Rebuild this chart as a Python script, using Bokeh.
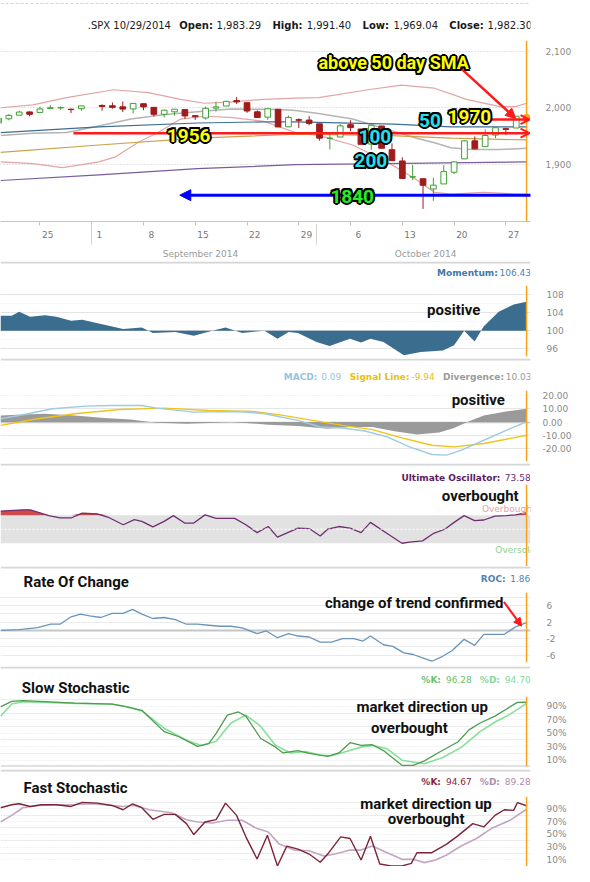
import numpy as np
from bokeh.plotting import figure
from bokeh.layouts import column
from bokeh.models import (Span, Label, FixedTicker, LinearAxis, Range1d, Arrow,
                          NormalHead, OpenHead, Grid, BoxAnnotation,
                          NumeralTickFormatter, PrintfTickFormatter)
from bokeh.embed import file_html
from bokeh.resources import INLINE

# ---------------- data ----------------
# weekday slot index: 0 = Mon 18 Aug 2014 (Mon 1 Sep, Labor Day, has no candle)
day_idx = [1, 2, 3, 4, 5, 6, 7, 8, 9,
           11, 12, 13, 14, 15, 16, 17, 18, 19, 20, 21, 22, 23, 24,
           25, 26, 27, 28, 29, 30, 31, 32, 33, 34, 35, 36, 37, 38, 39, 40, 41, 42, 43, 44, 45,
           46, 47, 48, 49, 50, 51, 52]
open_ = [1972.73, 1980.46, 1986.82, 1992.60, 1991.74, 1998.59, 1999.90, 1997.42, 1998.45,
         2004.07, 2003.57, 2001.67, 1998.00, 2007.17, 2000.73, 1988.41, 1992.85, 1996.74, 1986.04, 1981.93, 1999.30, 2003.07, 2012.74,
         2009.08, 1992.78, 1983.34, 1997.32, 1966.22, 1978.96, 1978.21, 1971.44, 1945.83, 1948.12, 1970.01, 1962.36, 1935.55, 1967.68, 1925.63, 1905.65, 1877.11, 1874.18, 1855.95, 1864.91, 1885.62,
         1909.38, 1941.29, 1931.02, 1951.59, 1962.97, 1964.14, 1983.29]
high = [1982.57, 1988.57, 1994.76, 1993.54, 2001.95, 2005.04, 2002.14, 1998.55, 2003.38,
        2006.12, 2009.28, 2011.17, 2007.71, 2007.17, 2001.01, 1996.66, 1997.65, 1996.74, 1987.18, 2002.28, 2010.74, 2012.34, 2019.26,
        2009.08, 1995.41, 1999.79, 1997.32, 1986.37, 1981.28, 1985.17, 1971.44, 1952.32, 1971.19, 1977.84, 1962.36, 1970.36, 1967.68, 1936.98, 1912.09, 1898.71, 1874.18, 1876.01, 1898.16, 1905.03,
        1942.45, 1949.31, 1961.95, 1965.27, 1964.64, 1985.05, 1991.40]
low = [1972.73, 1977.68, 1986.82, 1984.76, 1991.74, 1998.59, 1996.20, 1990.52, 1994.65,
       1994.85, 1998.14, 1992.54, 1990.10, 1995.60, 1984.61, 1982.99, 1985.93, 1980.26, 1978.48, 1979.06, 1993.29, 2003.07, 2006.59,
       1991.01, 1982.77, 1978.63, 1965.99, 1966.22, 1964.04, 1968.96, 1941.72, 1926.03, 1948.12, 1958.43, 1935.10, 1925.25, 1927.56, 1906.05, 1874.14, 1871.79, 1820.66, 1835.02, 1864.91, 1882.30,
       1909.38, 1926.83, 1931.02, 1946.27, 1951.37, 1964.14, 1969.04]
close = [1981.60, 1986.51, 1992.37, 1988.40, 1997.92, 2000.02, 2000.12, 1996.74, 2003.37,
         2002.28, 2000.72, 1997.65, 2007.71, 2001.54, 1988.44, 1995.69, 1997.45, 1985.54, 1984.13, 1998.98, 2001.57, 2011.36, 2010.40,
         1994.29, 1982.77, 1998.30, 1965.99, 1982.85, 1977.80, 1972.29, 1946.16, 1946.17, 1967.90, 1964.82, 1935.10, 1968.89, 1928.21, 1906.13, 1874.74, 1877.70, 1862.49, 1862.76, 1886.76, 1904.01,
         1941.28, 1927.11, 1950.82, 1964.58, 1961.63, 1985.05, 1982.30]

week_idx = [0, 5, 10, 15, 20, 25, 30, 35, 40, 45, 50]
week_labels = ["18", "25", "1", "8", "15", "22", "29", "6", "13", "20", "27"]
month_center = [20.5, 42.25]
month_bound = [10, 31.75]
month_labels = ["September 2014", "October 2014"]

bb_up_x = [1.19, 4.33, 7.56, 12.13, 15.46, 18.6, 20.88, 23.36, 26.59, 29.73, 31.92, 36.68, 39.91, 43.05, 46.19, 49.43, 50.95, 52.0]
bb_up = [2000, 2005, 2018, 2032, 2027, 2015, 2008, 2010, 2015, 2017, 2018, 2032, 2040, 2035, 2015, 2002, 2002, 2008]
bb_lo_x = [1.19, 4.33, 7.18, 10.7, 12.3, 14.5, 16.4, 18.6, 20.9, 23.4, 26.6, 29.7, 31.9, 35.2, 38.3, 39.9, 41.4, 43.1, 44.7, 47.8, 51.0, 52.0]
bb_lo = [1904, 1901, 1894, 1904, 1913, 1939, 1956, 1980, 1985, 1983, 1976, 1956, 1951, 1934, 1906, 1889, 1872, 1850, 1847, 1850, 1847, 1847]
bb_mid_x = [1.19, 4.33, 7.56, 10.0, 13.8, 17.1, 20.2, 23.4, 28.1, 29.7, 31.9, 35.2, 38.3, 41.4, 43.1, 44.7, 46.6, 49.4, 52.0]
bb_mid = [1951, 1955, 1956, 1965, 1980, 1988, 1993, 1998, 1997, 1995, 1990, 1980, 1963, 1946, 1938, 1929, 1926, 1926, 1928]
sma50_x = [1.19, 10.7, 20.2, 26.6, 29.7, 39.2, 44.7, 52.0]
sma50 = [1956, 1966, 1973, 1975, 1975, 1971, 1966, 1966]
sma100_x = [1.19, 10.7, 20.2, 29.7, 38.3, 44.7, 52.0]
sma100 = [1921, 1934, 1946, 1953, 1951, 1946, 1943]
sma200_x = [1.19, 10.7, 20.2, 29.7, 38.3, 52.0]
sma200 = [1871, 1881, 1892, 1899, 1901, 1904]

mom_x = [1.19, 2.27, 2.99, 4.06, 5.5, 6.58, 8.01, 9.09, 10.89, 13.04, 14.84, 15.91, 18.07, 19.86, 21.66, 22.92, 24.53, 26.69, 27.94, 29.02,
         29.92, 31.71, 32.97, 34.95, 36.02, 36.92, 38.18, 40.15, 41.77, 43.92, 45.0, 45.97, 46.98, 47.87, 49.31, 50.75, 52.0]
mom_y = [103.3, 103.3, 104.2, 103.1, 103.4, 103.1, 102.2, 102.4, 101.5, 100.4, 100.7, 99.5, 99.7, 98.9, 100.0, 100.7, 99.5, 100.0, 98.2, 99.7,
         99.5, 97.5, 96.6, 98.2, 97.4, 98.2, 97.5, 94.6, 95.3, 95.6, 96.8, 100.0, 97.6, 101.0, 104.2, 105.8, 106.43]

macd_x = [1.19, 3.34, 6.22, 9.45, 11.96, 14.84, 16.27, 19.86, 24.17, 26.69, 29.92, 32.07, 34.23, 36.38, 38.54, 40.69, 42.85, 44.28, 45.72, 47.87, 50.03, 52.0]
macd_y = [2.5, 5.5, 10, 12, 12.5, 12.5, 10.5, 7.5, 8, 6.25, 1.25, -3.75, -4.5, -6.75, -11.25, -18.75, -24.5, -25, -21.25, -13.75, -6.25, 0.09]
sig_x = [1.19, 4.78, 8.37, 12.68, 16.99, 21.3, 25.61, 28.48, 31.35, 34.23, 37.1, 39.97, 42.85, 45.0, 47.87, 50.03, 52.0]
sig_y = [-2.5, 2.5, 6.25, 9.5, 10.5, 8.75, 8, 5, 1.25, -2.5, -5.75, -12, -17.5, -18.75, -16.25, -13, -9.94]
div_x = [1.19, 3.34, 5.5, 8.37, 11.24, 13.76, 16.27, 19.15, 21.3, 23.45, 24.89, 27.05, 29.92, 32.79, 34.95, 37.1, 39.25, 41.41, 43.56, 45.0, 46.44, 47.87, 50.03, 52.0]
div_y = [5, 5.75, 6.25, 5, 3, 2, -0.5, -1.25, -0.75, 0, -0.75, -2, -3, -5, -3.75, -3.75, -7, -9.5, -8, -4.5, 0.5, 5, 8, 10.03]

uo_x = [1.19, 3.34, 4.06, 4.78, 5.86, 6.94, 8.01, 9.09, 10.53, 11.6, 13.04, 14.12, 14.84, 15.91, 16.99, 17.89, 18.97, 19.86, 20.94, 22.02,
        23.81, 24.89, 25.97, 27.05, 27.94, 29.92, 31.0, 32.07, 32.79, 33.87, 34.95, 36.02, 36.92, 38.9, 39.97, 40.69, 41.95, 43.03, 44.1, 45.0,
        45.97, 46.98, 47.87, 48.95, 50.03, 50.93, 52.0]
uo_y = [75.9, 77.8, 77.8, 74.4, 69.5, 66.1, 66.1, 73, 72, 67.1, 56.4, 63.7, 61.3, 53.5, 61.3, 69.5, 58.8, 58.8, 70.5, 65.6,
        65.6, 56.4, 45.2, 53.9, 38.8, 51.5, 51, 40.3, 50, 53.9, 51.5, 45.2, 59.8, 40.3, 30, 31.5, 33.4, 44.2, 50, 59.8,
        69.5, 62.2, 63.2, 68.6, 69.5, 70.5, 73.58]

roc_x = [1.19, 2.99, 4.78, 6.04, 6.94, 8.01, 8.91, 9.81, 10.89, 11.96, 13.04, 13.94, 14.84, 15.91, 16.99, 18.07, 19.15, 20.22, 21.3, 22.38,
         23.45, 24.53, 25.97, 26.87, 27.94, 29.02, 29.92, 31.0, 32.07, 33.15, 34.23, 35.3, 36.2, 36.92, 38.18, 39.08, 40.15, 41.05, 41.95, 42.85,
         43.74, 44.82, 45.97, 46.98, 47.87, 49.85, 50.93, 52.0]
roc_y = [0, 0.16, 0.65, 1.47, 1.47, 3.27, 3.92, 3.51, 3.1, 4.08, 4.08, 5.06, 3.92, 2.86, 3.1, 2.61, 1.47, 1.47, 1.22, 0.98,
         0.98, 0.57, -0.82, -0.16, -1.8, -0.82, -1.39, -1.63, -2.86, -2.86, -2.04, -2.04, -2.61, -1.39, -3.51, -3.92, -5.47, -5.88, -6.69, -7.51,
         -6.53, -4.9, -2.2, -3.67, -0.98, -0.98, 0.82, 1.86]

sk_x = [1.19, 2.27, 3.34, 5.5, 8.37, 11.96, 13.4, 14.84, 16.99, 18.43, 20.22, 21.3, 22.02, 23.1, 24.17, 24.89, 26.33, 27.76, 28.48, 29.92,
        31.0, 32.79, 33.87, 34.95, 36.02, 37.1, 38.18, 39.97, 41.05, 42.13, 43.56, 45.36, 46.44, 47.51, 48.95, 50.03, 51.11, 52.0]
sk_y = [89.5, 97.7, 98.7, 97.2, 95.1, 93.6, 89.5, 84.3, 52.5, 44.8, 30.4, 34.5, 49.9, 77.1, 81.8, 75.6, 42.2, 29.3, 20.6, 24.2,
        20.1, 15.4, 20.6, 36, 31.9, 32.9, 24.2, 2.1, 2.1, 8.8, 21.6, 37, 55, 65.3, 75.6, 85.9, 96.2, 96.28]
sd_x = [1.19, 2.27, 3.34, 5.5, 8.37, 11.96, 13.4, 14.84, 16.99, 19.15, 20.58, 22.02, 23.45, 24.89, 26.33, 27.76, 29.2, 30.64, 32.07, 33.15,
        34.59, 36.02, 37.1, 38.54, 39.97, 42.13, 43.92, 45.72, 47.51, 48.95, 50.39, 52.0]
sd_y = [75.6, 93.6, 97.2, 96.2, 94.6, 93.6, 89.5, 83.3, 57.6, 39.6, 31.9, 38.1, 65.3, 77.1, 60.2, 31.9, 20.6, 22.7, 17.5, 16.5,
        22.7, 29.3, 31.9, 26.8, 9.8, 4.6, 13.9, 29.3, 52.5, 66.9, 78.2, 94.70]

fk_x = [1.19, 2.27, 2.99, 4.06, 5.14, 6.58, 8.01, 9.09, 10.53, 11.96, 13.04, 13.94, 14.84, 15.91, 16.99, 18.07, 19.15, 19.86, 20.94, 22.02,
        22.92, 23.99, 24.89, 25.97, 26.97, 27.94, 28.84, 29.92, 31.0, 32.07, 32.79, 34.05, 34.95, 36.02, 36.92, 37.82, 38.9, 39.97, 40.87, 41.41,
        42.85, 44.28, 45.36, 46.8, 47.87, 48.95, 49.85, 50.75, 51.11, 52.0]
fk_y = [91.6, 96.2, 97.8, 93.6, 96.2, 96.2, 93.6, 100, 98.8, 95.2, 88.4, 97.8, 91.6, 73.4, 81.2, 81.2, 66.7, 49.6, 69.3, 72.9,
        98.8, 79.6, 46, 11.2, 48.5, 0.4, 31.5, 26.8, 19, 6.1, 19, 46, 43.4, 9.7, 47, 3.5, 0.4, 0.4, 4.5, 21.1,
        21.1, 34.6, 47.5, 66.7, 61.5, 79.6, 88.4, 87.4, 99.5, 94.67]
fd_x = [1.19, 2.27, 3.34, 4.78, 6.58, 8.37, 10.17, 11.96, 13.04, 14.12, 15.55, 17.71, 19.15, 20.22, 21.66, 23.1, 24.53, 25.97, 27.05, 28.12,
        29.56, 31.0, 32.43, 33.51, 34.95, 36.02, 37.1, 38.54, 39.97, 41.05, 42.13, 43.2, 44.28, 45.72, 47.16, 48.59, 50.39, 52.0]
fd_y = [69.3, 79.6, 91.6, 95.2, 96.2, 96.7, 97.8, 95.2, 93.6, 95.2, 88.4, 83.8, 72.9, 69.3, 67.7, 71.9, 71.9, 58.9, 53.7, 34.6,
        25.2, 24.2, 15.9, 19, 25.2, 25.2, 31.5, 21.1, 10.7, 10.7, 5.6, 9.7, 17.5, 32, 43.4, 58.9, 71.9, 89.28]

# ---------------- layout helpers ----------------
W = 574
FRAME_W = 538
RB = W - FRAME_W
PXD = 10.51
X0 = 1.19
X1 = X0 + FRAME_W / PXD
FONT = "DejaVu Sans"
BOLDF = "Roboto"
ORANGE = "#f7a21b"
RED = "#ff1a1a"


def rx(ref_x):
    return X0 + ref_x / PXD


REG = {" ": .318, ".": .318, ",": .318, ":": .337, "-": .361, "/": .337, "%": .950,
       "S": .635, "P": .603, "X": .686, "C": .698, "O": .787, "H": .752, "L": .557, "K": .656,
       "D": .770, "M": .863, "U": .732, "R": .695}
BLD = {" ": .348, ".": .381, ",": .381, ":": .400, "-": .415, "/": .366, "%": 1.002,
       "A": .774, "C": .734, "D": .830, "H": .837, "K": .775, "L": .637, "M": .995, "O": .850,
       "R": .770, "S": .720, "U": .812, "X": .771, "P": .735,
       "a": .675, "b": .716, "c": .593, "d": .716, "e": .678, "g": .716, "h": .712, "i": .343,
       "l": .343, "m": 1.042, "n": .712, "o": .687, "r": .493, "s": .595, "t": .478, "u": .712,
       "v": .652, "w": .921, "y": .652, "f": .435}


def tw(s, size, bold):
    w = 0.0
    for ch in s:
        if ch.isdigit():
            w += 0.696 if bold else 0.636
        else:
            w += (BLD if bold else REG).get(ch, 0.69 if bold else 0.62)
    return w * size


def right_group(p, parts, y, end_ref=572, size=9):
    total = sum(tw(t, size, b) + g for t, b, c, g in parts)
    x = end_ref - total
    for t, b, c, g in parts:
        x += g
        p.add_layout(Label(x=rx(x), y=y, text=t, text_font=FONT, text_font_size=f"{size}px",
                           text_font_style="bold" if b else "normal", text_color=c,
                           text_align="left", text_baseline="middle"))
        x += tw(t, size, b)


def note(p, x, y, text, size=15, align="center", color="#111111"):
    p.add_layout(Label(x=x, y=y, text=text, text_font=BOLDF, text_font_style="bold",
                       text_font_size=f"{size}px", text_color=color, text_align=align,
                       text_baseline="middle"))


OFFS = [(-2, 0), (2, 0), (0, -2), (0, 2), (-1.5, -1.5), (1.5, -1.5), (-1.5, 1.5), (1.5, 1.5)]


def outlined(p, x, y, text, color, size):
    for dx, dy in OFFS:
        p.add_layout(Label(x=x, y=y, x_offset=dx, y_offset=dy, text=text, text_font=BOLDF,
                           text_font_style="bold", text_font_size=f"{size}px", text_color="black",
                           text_align="center", text_baseline="middle"))
    p.add_layout(Label(x=x, y=y, text=text, text_font=BOLDF, text_font_style="bold",
                       text_font_size=f"{size}px", text_color=color, text_align="center",
                       text_baseline="middle"))


def add_grid(p, ticks, color, dash="solid", width=1):
    p.add_layout(Grid(dimension=1, ticker=FixedTicker(ticks=ticks), grid_line_color=color,
                      grid_line_dash=dash, grid_line_width=width))


def title_fig(h, sep=True):
    p = figure(width=W, height=h, x_range=Range1d(X0, X0 + W / PXD), y_range=Range1d(0, h),
               output_backend="svg", toolbar_location=None, tools="",
               min_border_left=0, min_border_right=0, min_border_top=0, min_border_bottom=0,
               x_axis_location=None, y_axis_location=None)
    p.outline_line_color = None
    p.grid.visible = False
    if sep:
        p.add_layout(Span(location=h - 1, dimension="width", line_color="#d6d6d6", line_width=2))
    return p


def base_fig(h, bottom, y0, y1, x_axis=None):
    p = figure(width=W, height=h, x_range=Range1d(X0, X1), y_range=Range1d(y0, y1),
               output_backend="svg", toolbar_location=None, tools="",
               min_border_left=0, min_border_right=RB, min_border_top=0,
               min_border_bottom=bottom, x_axis_location=x_axis, y_axis_location="right")
    p.outline_line_color = None
    p.grid.visible = False
    return p


def style_y(p, ticks, fmt, standoff=10):
    ax = p.yaxis[0]
    ax.ticker = FixedTicker(ticks=ticks)
    ax.formatter = fmt
    ax.axis_line_color = None
    ax.major_tick_line_color = None
    ax.minor_tick_line_color = None
    ax.major_label_text_font = FONT
    ax.major_label_text_font_size = "9px"
    ax.major_label_text_color = "#8a8a8a"
    ax.major_label_standoff = standoff


def now_line(p):
    p.add_layout(Span(location=day_idx[-1], dimension="height", line_color=ORANGE, line_width=1.5))


GV = 7    # gap between a bold label and its value
GG = 11   # gap between groups

# ---------------- main price chart ----------------
th0 = title_fig(40, sep=False)
th0.add_layout(Span(location=37, dimension="width", line_color="#d4d4d4", line_width=1, line_dash="3 2"))
right_group(th0, [(".SPX 10/29/2014", False, "#1a1a1a", 0),
                  ("Open:", True, "#1a1a1a", 16), ("1,983.29", False, "#1a1a1a", GV),
                  ("High:", True, "#1a1a1a", 16), ("1,991.40", False, "#1a1a1a", GV),
                  ("Low:", True, "#1a1a1a", 16), ("1,969.04", False, "#1a1a1a", GV),
                  ("Close:", True, "#1a1a1a", 16), ("1,982.30", False, "#1a1a1a", GV)],
            15.5, size=10)

pm = base_fig(221, 30, 1798.3, 2119.3)
add_grid(pm, [1900, 2000, 2100], "#c8c8c8", "1 2")
style_y(pm, [1900, 2000, 2100], NumeralTickFormatter(format="0,0"), standoff=9)

day_axis = LinearAxis(ticker=FixedTicker(ticks=[w + 0.75 for w in week_idx], minor_ticks=week_idx),
                      major_label_overrides={w + 0.75: l for w, l in zip(week_idx, week_labels)},
                      axis_line_color="#c4c4c4", major_tick_line_color=None,
                      minor_tick_line_color="#c4c4c4", minor_tick_out=4, minor_tick_in=0,
                      major_label_standoff=3, major_label_text_font=FONT,
                      major_label_text_font_size="9px", major_label_text_color="#777777")
month_axis = LinearAxis(ticker=FixedTicker(ticks=month_center, minor_ticks=month_bound),
                        major_label_overrides={c: l for c, l in zip(month_center, month_labels)},
                        axis_line_color=None, major_tick_line_color=None,
                        minor_tick_line_color="#d0d0d0", minor_tick_in=16, minor_tick_out=4,
                        major_label_standoff=2, major_label_text_font=FONT,
                        major_label_text_font_size="9px", major_label_text_color="#9a9a9a")
pm.add_layout(day_axis, "below")
pm.add_layout(month_axis, "below")

pm.line(bb_up_x, bb_up, line_color="#e3a4a4", line_width=1.2)
pm.line(bb_lo_x, bb_lo, line_color="#e3a4a4", line_width=1.2)
pm.line(bb_mid_x, bb_mid, line_color="#b4b4b4", line_width=1.5)
pm.line(sma200_x, sma200, line_color="#7a5c9c", line_width=1.2)
pm.line(sma100_x, sma100, line_color="#c9a24a", line_width=1.2)
pm.line(sma50_x, sma50, line_color="#3f6f92", line_width=1.2)

o = np.array(open_); c = np.array(close)
up = c >= o
cols = np.where(up, "#3f9f33", "#9e1c1c")
fills = np.where(up, "white", "#9e1c1c")
pm.segment(x0=day_idx, y0=low, x1=day_idx, y1=high, line_color=cols.tolist(), line_width=1)
pm.vbar(x=day_idx, width=0.55, top=np.maximum(o, c), bottom=np.minimum(o, c),
        fill_color=fills.tolist(), line_color=cols.tolist(), line_width=1)
pm.scatter([day_idx[-1]], [close[-1]], size=7, fill_color=ORANGE, line_color=ORANGE)
now_line(pm)

pm.add_layout(Arrow(start=None, end=OpenHead(size=9, line_color=RED, line_width=2),
                    x_start=rx(74), y_start=1955, x_end=rx(537), y_end=1955,
                    line_color=RED, line_width=2.5))
pm.add_layout(Arrow(start=None, end=OpenHead(size=9, line_color=RED, line_width=2),
                    x_start=rx(498), y_start=1979, x_end=rx(537), y_end=1979,
                    line_color=RED, line_width=2.5))
pm.add_layout(Arrow(start=None, end=NormalHead(size=10, fill_color=RED, line_color=RED),
                    x_start=rx(468), y_start=2069, x_end=rx(523), y_end=1981,
                    line_color=RED, line_width=2.5))
pm.add_layout(Arrow(start=NormalHead(size=11, fill_color="#0000ff", line_color="#0000ff"), end=None,
                    x_start=rx(182), y_start=1845, x_end=rx(540), y_end=1845,
                    line_color="#0000ff", line_width=3))

outlined(pm, rx(399), 2080, "above 50 day SMA", "#ffff00", 18)
outlined(pm, rx(476), 1985, "1970", "#ffff00", 19)
outlined(pm, rx(191), 1951, "1956", "#ffff00", 19)
outlined(pm, rx(436), 1978, "50", "#22e0f0", 19)
outlined(pm, rx(380), 1949.5, "100", "#22e0f0", 19)
outlined(pm, rx(376), 1906, "200", "#22e0f0", 19)
outlined(pm, rx(357), 1843.5, "1840", "#22ee22", 19)

# ---------------- momentum ----------------
t1 = title_fig(24)
right_group(t1, [("Momentum:", True, "#3f79a8", 0), ("106.43", False, "#4a86b8", GV)], 13)
pmo = base_fig(73, 2, 94.3, 110.0)
add_grid(pmo, [96, 104, 108], "#e4e4e4")
add_grid(pmo, [98, 102, 106], "#e8e8e8", "1 2")
style_y(pmo, [96, 100, 104, 108], NumeralTickFormatter(format="0"))
pmo.varea(x=mom_x, y1=100, y2=mom_y, fill_color="#3b6d8f")
add_grid(pmo, [100], "#d8d8d8")
now_line(pmo)
note(pmo, rx(460), 104.6, "positive")

# ---------------- MACD ----------------
t2 = title_fig(32)
right_group(t2, [("MACD:", True, "#94c6de", 0), ("0.09", False, "#94c6de", GV),
                 ("Signal Line:", True, "#e8bf10", GG), ("-9.94", False, "#e8bf10", GV),
                 ("Divergence:", True, "#9a9a9a", GG), ("10.03", False, "#9a9a9a", GV)], 14,
            end_ref=573)
pmc = base_fig(73, 2, -29.8, 23.8)
add_grid(pmc, [-20, -10, 10], "#e6e6e6")
add_grid(pmc, [20], "#e0e0e0", "1 2")
style_y(pmc, [-20, -10, 0, 10, 20], NumeralTickFormatter(format="0.00"), standoff=6)
pmc.varea(x=div_x, y1=0, y2=div_y, fill_color="#9a9a9a")
add_grid(pmc, [0], "#c8c8c8", width=1.5)
pmc.line(sig_x, sig_y, line_color="#f0c419", line_width=1.4)
pmc.line(macd_x, macd_y, line_color="#9ccbe2", line_width=1.4)
now_line(pmc)
note(pmc, rx(485), 16.3, "positive")

# ---------------- Ultimate Oscillator ----------------
t3 = title_fig(21)
right_group(t3, [("Ultimate Oscillator:", True, "#5e1a60", 0), ("73.58", False, "#6e2a70", 13)], 7)
puo = base_fig(82, 0, -3.2, 113.9)
puo.yaxis.visible = False
puo.add_layout(BoxAnnotation(bottom=30, top=70, fill_color="#e2e2e2", fill_alpha=1.0,
                             line_color=None, level="underlay"))
puo.add_layout(Span(location=50, dimension="width", line_color="white", line_width=1, line_dash="2 2"))
uo = np.array(uo_y)
puo.varea(x=uo_x, y1=70, y2=np.maximum(uo, 70), fill_color="#d44a4a")
puo.varea(x=uo_x, y1=np.minimum(uo, 30), y2=30, fill_color="#5cbf5c")
puo.line(uo_x, uo_y, line_color="#6f2f72", line_width=1.3)
puo.add_layout(Label(x=rx(543), y=78.2, text="Overbought", text_font=FONT, text_font_size="9px",
                     text_color="#e6a2a2", text_align="right", text_baseline="middle"))
puo.add_layout(Label(x=rx(543), y=21, text="Oversold", text_font=FONT, text_font_size="9px",
                     text_color="#8fd08f", text_align="right", text_baseline="middle"))
now_line(puo)
note(puo, rx(487), 96.8, "overbought")

# ---------------- Rate of change ----------------
t4 = title_fig(26)
note(t4, rx(25), 11, "Rate Of Change", align="left")
right_group(t4, [("ROC:", True, "#4f83b0", 0), ("1.86", False, "#4f83b0", GV)], 14)
prc = base_fig(74, 4, -7.82, 9.17)
add_grid(prc, [-8, -6, -4, -2, 2, 4, 6, 8], "#ebebeb")
add_grid(prc, [0], "#c6c6c6", width=2)
style_y(prc, [-6, -2, 2, 6], NumeralTickFormatter(format="0"))
prc.line(roc_x, roc_y, line_color="#6a95bb", line_width=1.3)
now_line(prc)
note(prc, rx(420), 6.74, "change of trend confirmed")
prc.add_layout(Arrow(start=None, end=NormalHead(size=8, fill_color=RED, line_color=RED),
                     x_start=rx(511), y_start=6.9, x_end=rx(529), y_end=1.0,
                     line_color=RED, line_width=2))

# ---------------- Slow stochastic ----------------
t5 = title_fig(30)
note(t5, rx(23), 9, "Slow Stochastic", align="left")
right_group(t5, [("%K:", True, "#6cbf6c", 0), ("96.28", False, "#6cbf6c", GV),
                 ("%D:", True, "#86d89a", GG), ("94.70", False, "#86d89a", GV)], 17)
pss = base_fig(73, 3, 0.4, 104.9)
add_grid(pss, [20, 40, 60, 80, 100], "#ececec")
add_grid(pss, [10, 30, 50, 70, 90], "#e4e4e4", "1 2")
add_grid(pss, [0.8], "#c6c6c6", width=2)
style_y(pss, [10, 30, 50, 70, 90], PrintfTickFormatter(format="%d%%"))
pss.line(sd_x, sd_y, line_color="#86e09a", line_width=1.6)
pss.line(sk_x, sk_y, line_color="#4e9c4e", line_width=1.3)
now_line(pss)
note(pss, rx(428), 88.5, "market direction up")
note(pss, rx(415), 58.6, "overbought")

# ---------------- Fast stochastic ----------------
t6 = title_fig(27)
note(t6, rx(25), 9, "Fast Stochastic", align="left")
right_group(t6, [("%K:", True, "#8a1f3c", 0), ("94.67", False, "#8a1f3c", GV),
                 ("%D:", True, "#b08cae", GG), ("89.28", False, "#b08cae", GV)], 15)
pfs = base_fig(70, 0, -0.5, 109.2)
add_grid(pfs, [20, 40, 60, 80, 100], "#ececec")
add_grid(pfs, [10, 30, 50, 70, 90], "#e4e4e4", "1 2")
style_y(pfs, [10, 30, 50, 70, 90], PrintfTickFormatter(format="%d%%"))
pfs.line(fd_x, fd_y, line_color="#c2a6c2", line_width=1.6)
pfs.line(fk_x, fk_y, line_color="#7c2438", line_width=1.4)
now_line(pfs)
note(pfs, rx(432), 96.7, "market direction up")
note(pfs, rx(432), 73.4, "overbought")

layout = column(th0, pm, t1, pmo, t2, pmc, t3, puo, t4, prc, t5, pss, t6, pfs, spacing=0)
open("out.html", "w").write(file_html(layout, INLINE))
